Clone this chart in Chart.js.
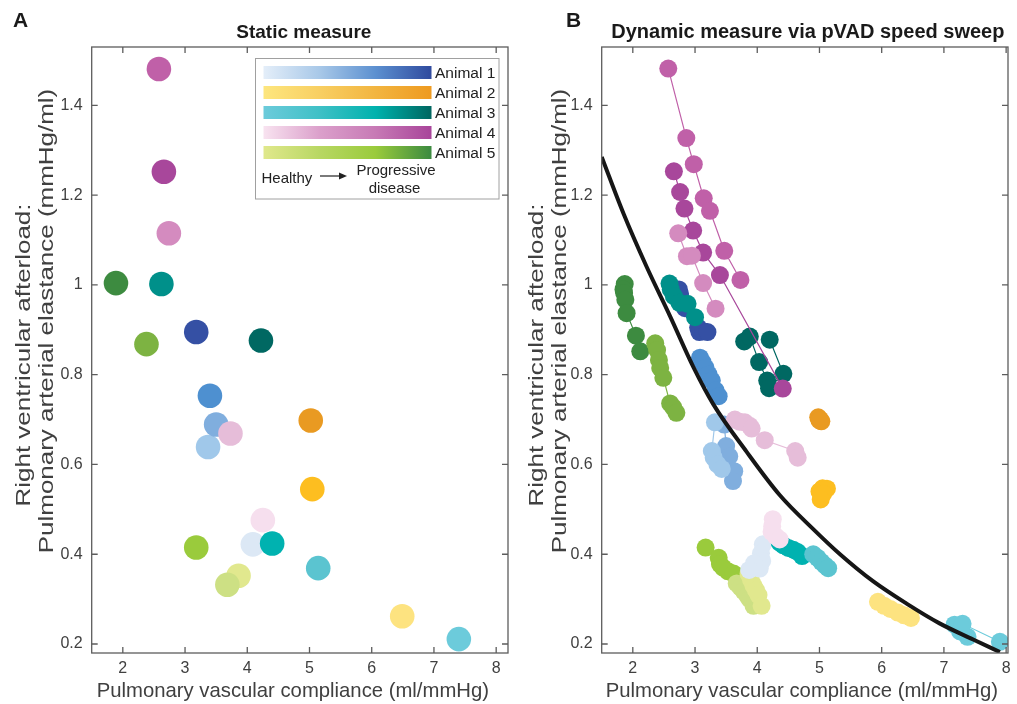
<!DOCTYPE html>
<html>
<head>
<meta charset="utf-8">
<script src="https://cdn.jsdelivr.net/npm/chart.js@4.4.1/dist/chart.umd.min.js"></script>
<style>
  html, body { margin: 0; padding: 0; background: #ffffff; }
  #wrap { position: relative; width: 1017px; height: 704px; overflow: hidden; }
  canvas { position: absolute; top: 0; }
</style>
</head>
<body>
<div id="wrap">
  <canvas id="cA" width="515" height="704" style="left:0px"></canvas>
  <canvas id="cB" width="502" height="704" style="left:515px"></canvas>
</div>
<script>
// ---------------- Axis ticks ----------------
const xTickValues = [2, 3, 4, 5, 6, 7, 8];
const xTickLabels = ['2', '3', '4', '5', '6', '7', '8'];
const yTickValues = [0.2, 0.4, 0.6, 0.8, 1.0, 1.2, 1.4];
const yTickLabels = ['0.2', '0.4', '0.6', '0.8', '1', '1.2', '1.4'];

const panelTitles = ['Static measure', 'Dynamic measure via pVAD speed sweep'];
const panelLetters = ['A', 'B'];
const xAxisTitle = 'Pulmonary vascular compliance (ml/mmHg)';
const yAxisTitle = ['Right ventricular afterload:', 'Pulmonary arterial elastance (mmHg/ml)'];
const legendLabels = ['Animal 1', 'Animal 2', 'Animal 3', 'Animal 4', 'Animal 5'];

// ---------------- Panel A: static measure (healthy -> progressive disease) ----------------
const animal1StaticX = [4.09, 3.37, 3.50, 3.40, 3.18];
const animal1StaticY = [0.422, 0.639, 0.689, 0.753, 0.895];
const animal2StaticX = [6.49, 5.045, 5.02];
const animal2StaticY = [0.262, 0.545, 0.698];
const animal3StaticX = [7.40, 5.14, 4.40, 2.62, 4.22];
const animal3StaticY = [0.211, 0.369, 0.424, 1.002, 0.876];
const animal4StaticX = [4.25, 3.73, 2.74, 2.58, 2.66];
const animal4StaticY = [0.476, 0.669, 1.115, 1.481, 1.252];
const animal5StaticX = [3.86, 3.68, 3.18, 2.38, 1.89];
const animal5StaticY = [0.352, 0.332, 0.415, 0.868, 1.004];

// ---------------- Panel B: pVAD speed sweeps (one list per disease state) ----------------
const animal1SweepX = [
  [4.09, 4.06, 4.08, 4.04, 3.95, 3.87],
  [3.32, 3.27, 3.30, 3.36, 3.43],
  [3.47, 3.50, 3.55, 3.63, 3.61],
  [3.08, 3.12, 3.17, 3.22, 3.27, 3.33, 3.38],
  [2.74, 2.76, 2.84, 3.05, 3.07, 3.13, 3.20]
];
const animal1SweepY = [
  [0.422, 0.402, 0.385, 0.368, 0.380, 0.365],
  [0.694, 0.630, 0.615, 0.600, 0.590],
  [0.689, 0.641, 0.618, 0.585, 0.563],
  [0.838, 0.828, 0.815, 0.800, 0.787, 0.765, 0.752],
  [0.990, 0.980, 0.948, 0.905, 0.895, 0.897, 0.895]
];
const animal2SweepX = [
  [5.94, 6.04, 6.14, 6.26, 6.36, 6.47],
  [5.00, 5.05, 5.12, 5.06, 5.02],
  [4.98, 5.01, 5.03, 5.00]
];
const animal2SweepY = [
  [0.294, 0.285, 0.278, 0.270, 0.264, 0.258],
  [0.540, 0.547, 0.546, 0.535, 0.522],
  [0.705, 0.700, 0.696, 0.698]
];
const animal3SweepX = [
  [7.17, 7.26, 7.38, 7.30, 7.90],
  [4.90, 4.97, 5.03, 5.09, 5.14],
  [4.36, 4.42, 4.50, 4.58, 4.65, 4.72],
  [2.59, 2.61, 2.66, 2.75, 2.88, 3.00],
  [3.79, 3.88, 4.03, 4.16, 4.19, 4.42, 4.20]
];
const animal3SweepY = [
  [0.243, 0.228, 0.216, 0.245, 0.205],
  [0.400, 0.392, 0.383, 0.375, 0.369],
  [0.426, 0.420, 0.414, 0.410, 0.405, 0.396],
  [1.003, 0.990, 0.975, 0.960, 0.958, 0.928],
  [0.874, 0.885, 0.828, 0.787, 0.770, 0.802, 0.878]
];
const animal4SweepX = [
  [4.25, 4.24, 4.23, 4.30, 4.36],
  [3.64, 3.72, 3.80, 3.88, 3.91, 4.12, 4.61, 4.65],
  [2.73, 2.87, 2.95, 3.13, 3.33],
  [2.57, 2.86, 2.98, 3.14, 3.24, 3.47, 3.73],
  [2.66, 2.76, 2.83, 2.97, 3.13, 3.40, 4.41]
];
const animal4SweepY = [
  [0.478, 0.462, 0.450, 0.440, 0.433],
  [0.700, 0.695, 0.694, 0.686, 0.680, 0.654, 0.630, 0.615],
  [1.115, 1.064, 1.065, 1.004, 0.947],
  [1.482, 1.327, 1.269, 1.193, 1.165, 1.076, 1.011],
  [1.253, 1.207, 1.170, 1.121, 1.072, 1.022, 0.769]
];
const animal5SweepX = [
  [3.86, 3.90, 3.94, 3.98, 4.02, 4.07],
  [3.67, 3.73, 3.78, 3.84, 3.88, 3.94],
  [3.17, 3.38, 3.40, 3.45, 3.53, 3.62],
  [2.36, 2.39, 2.42, 2.44, 2.49, 2.60, 2.65, 2.70],
  [1.87, 1.85, 1.86, 1.88, 1.90, 2.05, 2.12]
];
const animal5SweepY = [
  [0.356, 0.343, 0.330, 0.320, 0.309, 0.285],
  [0.335, 0.326, 0.318, 0.308, 0.300, 0.285],
  [0.415, 0.392, 0.378, 0.370, 0.362, 0.357],
  [0.870, 0.855, 0.833, 0.815, 0.793, 0.736, 0.727, 0.715],
  [1.002, 0.990, 0.982, 0.967, 0.937, 0.887, 0.852]
];

// Pooled fit curve
const fitX = [1.50, 1.85, 2.22, 2.60, 2.97, 3.29, 3.83, 4.36, 4.90, 5.33, 5.86, 6.40, 6.93, 7.47, 7.90];
const fitY = [1.285, 1.159, 1.041, 0.930, 0.818, 0.735, 0.628, 0.532, 0.456, 0.400, 0.340, 0.290, 0.246, 0.210, 0.182];

// ---------------- Styles ----------------
const animal1Colors = ['#dce8f5', '#a0c8ea', '#80aede', '#4e90d0', '#3550a4'];
const animal2Colors = ['#fde380', '#fdbe20', '#e99a22'];
const animal3Colors = ['#6ccbdb', '#5bc4d0', '#00b2b0', '#00908a', '#006862'];
const animal4Colors = ['#f6dfee', '#e6bdd9', '#d48bbf', '#c060a8', '#a8479b'];
const animal5Colors = ['#e1e88e', '#cde084', '#9acb3c', '#7db342', '#3d8b40'];
const legendGradients = [
  ['#e4eef9', '#a8c8e8', '#5c90d0', '#2f4a9e'],
  ['#fde67e', '#f8cf62', '#f2b540', '#ee9a20'],
  ['#6ccbdb', '#3fc0c6', '#00b2ad', '#006660'],
  ['#f8e3f0', '#dba0cb', '#c77ab5', '#a8449a'],
  ['#e0e88c', '#b8d763', '#9acb3c', '#3b8a40']
];
const drawOrder = [4, 2, 3, 1, 5]; // animal1..5 (lower = on top)

const FONT = "'Liberation Sans', Arial, Helvetica, sans-serif";
Chart.defaults.font.family = FONT;
Chart.defaults.color = '#404040';

const staticSets = [
  [animal1StaticX, animal1StaticY, animal1Colors],
  [animal2StaticX, animal2StaticY, animal2Colors],
  [animal3StaticX, animal3StaticY, animal3Colors],
  [animal4StaticX, animal4StaticY, animal4Colors],
  [animal5StaticX, animal5StaticY, animal5Colors]
];
const sweepSets = [
  [animal1SweepX, animal1SweepY, animal1Colors],
  [animal2SweepX, animal2SweepY, animal2Colors],
  [animal3SweepX, animal3SweepY, animal3Colors],
  [animal4SweepX, animal4SweepY, animal4Colors],
  [animal5SweepX, animal5SweepY, animal5Colors]
];

function toPts(xs, ys) { return xs.map((x, i) => ({ x: x, y: ys[i] })); }

const datasetsA = staticSets.map((s, a) => ({
  data: toPts(s[0], s[1]),
  showLine: false,
  pointRadius: 12.3,
  pointBackgroundColor: s[2].slice(0, s[0].length),
  pointBorderWidth: 0,
  pointBorderColor: 'rgba(0,0,0,0)',
  order: drawOrder[a] + 1
}));

const datasetsB = [];
sweepSets.forEach((s, a) => {
  s[0].forEach((xs, k) => {
    datasetsB.push({
      data: toPts(xs, s[1][k]),
      showLine: true,
      borderColor: s[2][k],
      borderWidth: 1.2,
      pointRadius: 9,
      pointBackgroundColor: s[2][k],
      pointBorderWidth: 0,
      pointBorderColor: 'rgba(0,0,0,0)',
      order: drawOrder[a] + 1
    });
  });
});
datasetsB.push({
  data: toPts(fitX, fitY),
  showLine: true,
  borderColor: '#161616',
  borderWidth: 4,
  pointRadius: 0,
  cubicInterpolationMode: 'monotone',
  order: 0
});

// Box with inward tick marks on all four sides
const framePlugin = {
  id: 'frame',
  afterDatasetsDraw(chart) {
    const { ctx, chartArea, scales } = chart;
    const { left, right, top, bottom } = chartArea;
    ctx.save();
    ctx.strokeStyle = '#5c5c5c';
    ctx.lineWidth = 1.3;
    ctx.strokeRect(left, top, right - left, bottom - top);
    ctx.beginPath();
    xTickValues.forEach(v => {
      const px = scales.x.getPixelForValue(v);
      if (px < left - 0.5 || px > right + 0.5) return;
      ctx.moveTo(px, bottom); ctx.lineTo(px, bottom - 6);
      ctx.moveTo(px, top); ctx.lineTo(px, top + 6);
    });
    yTickValues.forEach(v => {
      const py = scales.y.getPixelForValue(v);
      ctx.moveTo(left, py); ctx.lineTo(left + 6, py);
      ctx.moveTo(right, py); ctx.lineTo(right - 6, py);
    });
    ctx.stroke();
    ctx.restore();
  }
};

// Panel title, letter and axis titles
const headPlugin = {
  id: 'head',
  afterDraw(chart, args, opts) {
    const { ctx, chartArea } = chart;
    ctx.save();
    ctx.fillStyle = '#1a1a1a';
    ctx.font = 'bold ' + opts.titleSize + 'px ' + FONT;
    ctx.textAlign = 'center';
    ctx.textBaseline = 'alphabetic';
    ctx.fillText(opts.title, (chartArea.left + chartArea.right) / 2 + opts.titleShift, 38);
    ctx.font = 'bold 21px ' + FONT;
    ctx.textAlign = 'left';
    ctx.fillText(opts.letter, opts.letterX, 27);

    // x axis title
    ctx.fillStyle = '#404040';
    ctx.font = '20.3px ' + FONT;
    ctx.textAlign = 'center';
    ctx.textBaseline = 'middle';
    ctx.fillText(xAxisTitle, (chartArea.left + chartArea.right) / 2 + opts.xTitleShift, 691);

    // y axis title (two lines, elongated as in the reference)
    yAxisTitle.forEach((line, i) => {
      ctx.save();
      ctx.translate(opts.yTitleX[i], opts.yTitleCY[i]);
      ctx.rotate(-Math.PI / 2);
      ctx.scale(opts.yStretch, 1);
      ctx.fillText(line, 0, 0);
      ctx.restore();
    });
    ctx.restore();
  }
};

// Gradient legend (panel A)
const legendPlugin = {
  id: 'gradLegend',
  afterDraw(chart, args, opts) {
    if (!opts.show) return;
    const ctx = chart.ctx;
    ctx.save();
    ctx.fillStyle = '#ffffff';
    ctx.fillRect(255.5, 58.5, 243.5, 140.5);
    ctx.strokeStyle = '#a0a0a0';
    ctx.lineWidth = 1;
    ctx.strokeRect(255.5, 58.5, 243.5, 140.5);
    const barL = 263.5, barR = 431.5, barH = 13;
    legendLabels.forEach((lab, i) => {
      const top = 66 + i * 20;
      const g = ctx.createLinearGradient(barL, 0, barR, 0);
      const stops = legendGradients[i];
      stops.forEach((c, k) => g.addColorStop(k / (stops.length - 1), c));
      ctx.fillStyle = g;
      ctx.fillRect(barL, top, barR - barL, barH);
      ctx.fillStyle = '#222222';
      ctx.font = '15.5px ' + FONT;
      ctx.textAlign = 'left';
      ctx.textBaseline = 'alphabetic';
      ctx.fillText(lab, 435, top + 12);
    });
    ctx.fillStyle = '#222222';
    ctx.font = '15px ' + FONT;
    ctx.textAlign = 'left';
    ctx.fillText('Healthy', 261.5, 183);
    ctx.textAlign = 'center';
    ctx.fillText('Progressive', 396, 175);
    ctx.fillText('disease', 394.5, 193);
    ctx.strokeStyle = '#222222';
    ctx.lineWidth = 1.2;
    ctx.beginPath();
    ctx.moveTo(320, 176); ctx.lineTo(341, 176);
    ctx.stroke();
    ctx.beginPath();
    ctx.moveTo(347, 176); ctx.lineTo(339, 172.5); ctx.lineTo(339, 179.5); ctx.closePath();
    ctx.fill();
    ctx.restore();
  }
};

function makeOptions(yWidth, rightPad, xMax, head, showLegend) {
  return {
    responsive: false,
    animation: false,
    events: [],
    layout: { autoPadding: false, padding: { left: 0, right: rightPad, top: 47, bottom: 0 } },
    plugins: {
      legend: { display: false },
      tooltip: { enabled: false },
      head: head,
      gradLegend: { show: showLegend }
    },
    scales: {
      x: {
        type: 'linear',
        min: 1.5,
        max: xMax,
        afterFit(s) { s.height = 51; },
        afterBuildTicks(s) { s.ticks = xTickValues.map(v => ({ value: v })); },
        ticks: {
          callback: (v) => xTickLabels[xTickValues.indexOf(v)],
          font: { size: 16 },
          color: '#404040',
          padding: 6,
          maxRotation: 0,
          autoSkip: false
        },
        grid: { display: false, drawTicks: false },
        border: { display: false },
        title: { display: false, text: xAxisTitle }
      },
      y: {
        type: 'linear',
        min: 0.18,
        max: 1.53,
        afterFit(s) { s.width = yWidth; },
        afterBuildTicks(s) { s.ticks = yTickValues.map(v => ({ value: v })); },
        ticks: {
          callback: (v) => yTickLabels[yTickValues.findIndex(t => Math.abs(t - v) < 1e-9)],
          font: { size: 16 },
          color: '#404040',
          padding: 9,
          autoSkip: false
        },
        grid: { display: false, drawTicks: false },
        border: { display: false },
        title: { display: false, text: yAxisTitle }
      }
    }
  };
}

// keep the plot box where the reference has it
function pinArea(chart, target) {
  for (let i = 0; i < 3; i++) {
    const ca = chart.chartArea;
    const p = chart.options.layout.padding;
    p.right += ca.right - target.right;
    p.top += target.top - ca.top;
    p.bottom += ca.bottom - target.bottom;
    chart.update('none');
  }
}

const chartA = new Chart(document.getElementById('cA'), {
  type: 'scatter',
  data: { datasets: datasetsA },
  options: makeOptions(91.7, 7, 8.19, {
    title: panelTitles[0], titleSize: 19, letter: panelLetters[0], letterX: 13, titleShift: 4,
    xTitleShift: -7, yTitleX: [24, 47], yTitleCY: [355, 321], yStretch: 1.28
  }, true),
  plugins: [framePlugin, headPlugin, legendPlugin]
});
pinArea(chartA, { right: 508, top: 47, bottom: 653 });

const chartB = new Chart(document.getElementById('cB'), {
  type: 'scatter',
  data: { datasets: datasetsB },
  options: makeOptions(86.7, 9, 8.03, {
    title: panelTitles[1], titleSize: 20, letter: panelLetters[1], letterX: 51, titleShift: 3,
    xTitleShift: -3, yTitleX: [22, 45], yTitleCY: [355, 321], yStretch: 1.28
  }, false),
  plugins: [framePlugin, headPlugin, legendPlugin]
});
pinArea(chartB, { right: 493, top: 47, bottom: 653 });
</script>
</body>
</html>
